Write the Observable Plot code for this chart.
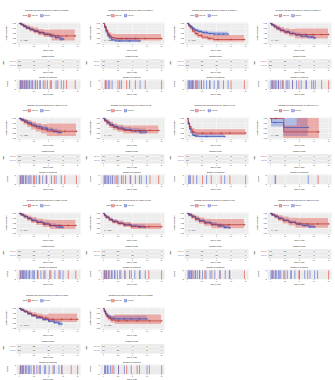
<!DOCTYPE html>
<html><head><meta charset="utf-8">
<script src="https://cdn.jsdelivr.net/npm/d3@7"></script>
<script src="https://cdn.jsdelivr.net/npm/@observablehq/plot@0.6"></script>
<style>
body{margin:0;background:#fff;}
#root{position:relative;width:335px;height:380px;overflow:hidden;background:#fff;}
#root svg{overflow:visible;}
</style></head><body><div id="root"></div>
<script>
const timeTicks = [0, 2.5, 5, 7.5, 10];
const survTicks = [0, 0.25, 0.5, 0.75, 1];
const strata = ["High expr", "Low expr"];
const gene = "PRRX1";
const subsets = ["stage I", "stage II", "stage III", "stage IV", "T1", "T2", "T3", "T4", "N0", "N1", "M0", "M1", "male", "female"];
const pValues = ["p = 0.38", "p = 0.27", "p = 0.11", "p = 0.14", "p = 0.83", "p = 0.46", "p = 0.22", "p = 0.55", "p = 0.19", "p = 0.76", "p = 0.14", "p = 0.5", "p = 0.097", "p = 0.27"];

// Kaplan-Meier steps: [time, survival, lower, upper]
const hi1 = [[0,1,1,1],[0.3,0.94,0.87,1],[0.7,0.86,0.77,0.96],[1.2,0.78,0.67,0.9],[1.8,0.7,0.57,0.83],[2.5,0.62,0.48,0.77],[3.3,0.54,0.39,0.7],[4.3,0.46,0.3,0.66],[5.6,0.38,0.12,0.67],[9.6,0.38,0.12,0.67]];
const lo1 = [[0,1,1,1],[0.3,0.95,0.92,0.98],[0.7,0.87,0.83,0.91],[1.2,0.78,0.73,0.83],[1.8,0.7,0.64,0.76],[2.5,0.62,0.55,0.69],[3.3,0.54,0.46,0.61],[4.2,0.46,0.38,0.54],[5.2,0.38,0.29,0.47],[6.2,0.3,0.19,0.41],[7,0.22,0.11,0.36],[7.6,0.22,0.11,0.36]];
const hi2 = [[0,1,1,1],[0.2,0.85,0.75,0.96],[0.45,0.66,0.53,0.8],[0.7,0.5,0.37,0.66],[1,0.38,0.25,0.54],[1.4,0.3,0.18,0.46],[2,0.25,0.13,0.45],[10,0.25,0.13,0.45]];
const lo2 = [[0,1,1,1],[0.2,0.82,0.72,0.93],[0.45,0.6,0.48,0.74],[0.7,0.42,0.3,0.56],[1,0.28,0.18,0.41],[1.4,0.18,0.1,0.3],[2,0.13,0.05,0.26],[6.3,0.13,0.05,0.26]];
const hi3 = [[0,1,1,1],[0.2,0.9,0.82,0.98],[0.5,0.78,0.68,0.88],[0.9,0.63,0.52,0.75],[1.3,0.5,0.38,0.63],[1.8,0.4,0.28,0.54],[2.5,0.32,0.2,0.47],[3.5,0.26,0.14,0.42],[4.5,0.2,0.07,0.4],[9.8,0.2,0.07,0.4]];
const lo3 = [[0,1,1,1],[0.2,0.93,0.9,0.97],[0.5,0.84,0.79,0.89],[0.9,0.74,0.68,0.8],[1.3,0.66,0.6,0.73],[1.8,0.6,0.53,0.67],[2.5,0.54,0.47,0.62],[3.5,0.5,0.42,0.58],[4.5,0.47,0.38,0.56],[7,0.47,0.38,0.56]];
const hi4 = [[0,1,1,1],[0.2,0.93,0.86,1],[0.6,0.84,0.74,0.95],[1.1,0.74,0.62,0.87],[1.7,0.65,0.52,0.8],[2.4,0.57,0.42,0.74],[3.3,0.5,0.34,0.7],[4.3,0.45,0.22,0.72],[10,0.45,0.22,0.72]];
const lo4 = [[0,1,1,1],[0.2,0.94,0.91,0.97],[0.6,0.86,0.82,0.9],[1.1,0.76,0.71,0.81],[1.7,0.66,0.6,0.72],[2.4,0.58,0.51,0.65],[3.3,0.5,0.43,0.58],[4.3,0.43,0.35,0.52],[5.3,0.37,0.28,0.47],[6.4,0.32,0.22,0.43],[7.4,0.28,0.17,0.4],[7.7,0.28,0.17,0.4]];
const hi5 = [[0,1,1,1],[0.3,0.92,0.82,1],[0.8,0.82,0.68,0.96],[1.4,0.72,0.55,0.9],[2.1,0.62,0.42,0.82],[2.9,0.52,0.32,0.75],[3.8,0.44,0.22,0.7],[4.8,0.36,0.1,0.72],[9.8,0.36,0.1,0.72]];
const lo5 = [[0,1,1,1],[0.3,0.95,0.92,0.98],[0.8,0.87,0.82,0.91],[1.4,0.78,0.72,0.83],[2.1,0.68,0.62,0.74],[2.9,0.6,0.53,0.67],[3.8,0.52,0.44,0.6],[4.8,0.44,0.35,0.53],[5.8,0.36,0.26,0.47],[6.6,0.3,0.19,0.42],[7.2,0.3,0.19,0.42]];
const hi6 = [[0,1,1,1],[0.2,0.9,0.8,1],[0.6,0.78,0.65,0.92],[1.1,0.65,0.5,0.82],[1.7,0.55,0.4,0.73],[2.5,0.47,0.31,0.66],[3.5,0.4,0.22,0.62],[9.5,0.4,0.22,0.62]];
const lo6 = [[0,1,1,1],[0.2,0.92,0.88,0.96],[0.6,0.82,0.77,0.88],[1.1,0.7,0.63,0.77],[1.7,0.6,0.52,0.68],[2.5,0.52,0.43,0.61],[3.5,0.45,0.35,0.55],[4.8,0.38,0.27,0.5],[6.2,0.33,0.2,0.47],[7.4,0.33,0.2,0.47]];
const hi7 = [[0,1,1,1],[0.15,0.8,0.68,0.93],[0.35,0.6,0.47,0.75],[0.6,0.44,0.32,0.6],[0.9,0.33,0.22,0.5],[1.3,0.27,0.15,0.44],[10,0.27,0.15,0.44]];
const lo7 = [[0,1,1,1],[0.15,0.75,0.65,0.86],[0.35,0.5,0.4,0.63],[0.6,0.3,0.21,0.43],[0.9,0.18,0.11,0.3],[1.3,0.12,0.06,0.23],[2,0.1,0.04,0.21],[6.4,0.1,0.04,0.21]];
const hi8 = [[0,1,1,1],[2.3,0.33,0,0.62],[4.6,0.33,0,1],[8.4,0.33,0,1]];
const lo8 = [[0,1,1,1],[0.2,0.8,0.58,1],[2.3,0.55,0.1,1],[6.5,0.55,0.1,1]];
const hi9 = [[0,1,1,1],[0.3,0.93,0.85,1],[0.8,0.84,0.73,0.95],[1.4,0.74,0.61,0.88],[2.1,0.64,0.5,0.8],[3,0.55,0.4,0.72],[4.1,0.47,0.3,0.67],[5.3,0.4,0.2,0.65],[9.7,0.4,0.2,0.65]];
const lo9 = [[0,1,1,1],[0.3,0.94,0.91,0.97],[0.8,0.85,0.81,0.89],[1.4,0.76,0.71,0.81],[2.1,0.66,0.6,0.72],[3,0.57,0.5,0.64],[4.1,0.48,0.4,0.56],[5.2,0.4,0.31,0.49],[6.3,0.33,0.23,0.44],[7.5,0.3,0.19,0.42]];
const hi10 = [[0,1,1,1],[0.2,0.9,0.84,0.96],[0.5,0.8,0.72,0.88],[1,0.68,0.59,0.78],[1.6,0.58,0.48,0.69],[2.5,0.5,0.39,0.62],[3.5,0.42,0.3,0.55],[4.8,0.34,0.2,0.49],[10,0.34,0.2,0.49]];
const lo10 = [[0,1,1,1],[0.2,0.92,0.89,0.95],[0.5,0.82,0.78,0.86],[1,0.7,0.65,0.75],[1.6,0.6,0.54,0.66],[2.5,0.51,0.45,0.58],[3.5,0.44,0.37,0.51],[4.8,0.37,0.3,0.45],[6,0.33,0.25,0.42],[7.2,0.32,0.23,0.41]];
const hi11 = [[0,1,1,1],[0.3,0.92,0.84,1],[0.8,0.82,0.71,0.94],[1.4,0.71,0.58,0.86],[2.1,0.61,0.46,0.78],[3,0.52,0.36,0.71],[4.2,0.44,0.24,0.7],[9.8,0.44,0.24,0.7]];
const lo11 = [[0,1,1,1],[0.3,0.94,0.91,0.97],[0.8,0.85,0.81,0.89],[1.4,0.74,0.69,0.79],[2.1,0.64,0.58,0.7],[3,0.55,0.48,0.62],[4.1,0.46,0.38,0.54],[5.2,0.38,0.29,0.47],[6.3,0.31,0.21,0.42],[7.3,0.28,0.17,0.4]];
const hi12 = [[0,1,1,1],[0.3,0.93,0.85,1],[0.8,0.84,0.73,0.96],[1.4,0.74,0.6,0.89],[2.2,0.64,0.48,0.82],[3.2,0.55,0.37,0.76],[4.4,0.48,0.26,0.75],[10,0.48,0.26,0.75]];
const lo12 = [[0,1,1,1],[0.3,0.94,0.91,0.97],[0.8,0.86,0.82,0.9],[1.4,0.76,0.71,0.81],[2.2,0.66,0.6,0.72],[3.2,0.56,0.49,0.63],[4.4,0.47,0.39,0.55],[5.5,0.4,0.31,0.5],[6.6,0.34,0.24,0.46],[7.6,0.32,0.21,0.45]];
const hi13 = [[0,1,1,1],[0.3,0.93,0.87,0.99],[0.8,0.85,0.77,0.93],[1.4,0.76,0.66,0.86],[2.1,0.67,0.56,0.79],[3,0.59,0.46,0.72],[4,0.52,0.38,0.68],[5,0.46,0.3,0.72],[10,0.46,0.3,0.72]];
const lo13 = [[0,1,1,1],[0.3,0.93,0.9,0.96],[0.8,0.84,0.8,0.88],[1.4,0.74,0.69,0.79],[2.1,0.64,0.58,0.7],[3,0.54,0.47,0.61],[4,0.45,0.38,0.53],[5,0.37,0.29,0.46],[6,0.3,0.2,0.4],[6.8,0.23,0.12,0.36],[7.3,0.23,0.12,0.36]];
const hi14 = [[0,1,1,1],[0.15,0.86,0.76,0.96],[0.35,0.72,0.6,0.85],[0.6,0.6,0.47,0.75],[0.9,0.5,0.37,0.66],[1.3,0.43,0.28,0.62],[2,0.38,0.2,0.68],[10,0.38,0.2,0.68]];
const lo14 = [[0,1,1,1],[0.15,0.88,0.83,0.93],[0.35,0.76,0.7,0.83],[0.6,0.65,0.58,0.73],[0.9,0.57,0.49,0.66],[1.3,0.51,0.42,0.61],[2,0.48,0.37,0.62],[7.5,0.48,0.37,0.62]];
const kmHigh = [hi1, hi2, hi3, hi4, hi5, hi6, hi7, hi8, hi9, hi10, hi11, hi12, hi13, hi14];
const kmLow = [lo1, lo2, lo3, lo4, lo5, lo6, lo7, lo8, lo9, lo10, lo11, lo12, lo13, lo14];

// Number at risk at timeTicks
const riskHigh = [[58,16,6,2,0],[65,15,9,3,1],[44,12,5,2,1],[36,12,6,3,1],[28,10,4,2,1],[31,12,5,2,1],[37,8,5,2,1],[3,1,1,1,0],[52,18,7,3,0],[73,28,9,4,1],[41,15,6,3,1],[33,12,5,3,1],[57,22,9,4,1],[27,6,3,1,1]];
const riskLow = [[212,48,12,1,0],[56,7,4,1,0],[186,72,26,4,0],[210,74,24,5,0],[176,60,20,5,0],[144,50,16,4,0],[59,6,3,1,0],[5,3,1,0,0],[224,80,26,6,0],[180,64,20,4,0],[236,84,27,6,0],[198,70,22,5,0],[201,70,22,4,0],[60,13,6,2,0]];

// Censoring times
const censorHigh = [
 [0.2,0.5,0.9,1.3,1.7,2.2,2.8,3.5,4.4,5.3,6.6,8.1,9.6],
 [0.3,0.6,1.1,2.5,3.1,4.0,5.5,7.2,10],
 [0.3,0.9,1.6,2.4,3.8,5.2,7.5,9.8],
 [0.3,0.8,1.4,2.1,2.9,3.8,4.9,6.1,7.4,8.8,10],
 [0.2,0.6,1.1,1.8,2.6,3.5,4.6,6.0,7.8,9.8],
 [0.3,0.8,1.5,2.3,3.4,4.7,6.2,8.0,9.5],
 [0.4,1.0,2.6,4.1,5.8,7.3,10],
 [0.9,8.2],
 [0.2,0.6,1.1,1.7,2.4,3.2,4.2,5.4,6.8,8.4,9.7],
 [0.2,0.5,0.9,1.4,2.0,2.8,3.7,4.8,6.2,7.8,10],
 [0.3,0.8,1.4,2.1,3.0,4.2,5.6,7.2,9.8],
 [0.3,0.9,1.6,2.5,3.6,4.9,6.4,8.1,10],
 [0.2,0.6,1.1,1.7,2.5,3.4,4.5,5.8,7.3,8.9,10],
 [0.3,0.7,1.5,2.6,4.0,5.8,7.9,10]
];
const censorLow = [
 [0.1,0.25,0.4,0.6,0.8,1.0,1.2,1.45,1.7,2.0,2.3,2.7,3.1,3.6,4.1,4.8,5.5,6.3,7.2,7.6],
 [0.4,0.9,1.5,2.8,4.5,6.3],
 [0.1,0.3,0.5,0.7,0.9,1.1,1.4,1.7,2.0,2.4,2.8,3.3,3.9,4.6,5.4,6.2,7],
 [0.1,0.3,0.5,0.8,1.1,1.4,1.8,2.2,2.7,3.2,3.8,4.5,5.3,6.2,7.1,7.7],
 [0.1,0.3,0.5,0.7,1.0,1.3,1.6,2.0,2.4,2.9,3.4,4.0,4.7,5.5,6.3,7.2],
 [0.1,0.3,0.6,0.9,1.2,1.6,2.0,2.5,3.1,3.8,4.6,5.5,6.5,7.4],
 [0.2,0.5,1.6,3.3,6.4],
 [0.8,6.5],
 [0.1,0.3,0.5,0.7,0.9,1.2,1.5,1.8,2.2,2.6,3.1,3.7,4.4,5.2,6.1,7.0,7.5],
 [0.1,0.3,0.5,0.8,1.1,1.5,1.9,2.4,3.0,3.7,4.5,5.4,6.3,7.2],
 [0.1,0.3,0.5,0.7,1.0,1.3,1.7,2.1,2.6,3.2,3.9,4.7,5.6,6.5,7.3],
 [0.1,0.3,0.5,0.8,1.1,1.4,1.8,2.3,2.9,3.5,4.2,5.0,5.9,6.8,7.6],
 [0.1,0.3,0.5,0.7,1.0,1.3,1.6,2.0,2.5,3.0,3.6,4.3,5.1,6.0,6.8,7.3],
 [0.2,0.4,0.8,1.2,1.8,2.6,3.6,4.8,6.2,7.5]
];

const RED = "#E8453C", BLUE = "#4F6BD8", PANEL = "#EBEBEB";
const RED_LINE = "#B8322E", BLUE_LINE = "#3F55B8";
const FONT = "Liberation Sans, Arial, sans-serif";
const colW = 335 / 4, rowH = 95;
const xDom = [-0.5, 10.5];
const root = document.getElementById("root");

const over = d3.select(root).append("svg").attr("width", 335).attr("height", 380)
  .style("position", "absolute").style("left", "0px").style("top", "0px").style("z-index", 2);
function txt(x, y, s, size, o = {}) {
  const t = over.append("text").attr("x", x).attr("y", y).attr("font-size", size)
    .attr("text-anchor", o.anchor || "middle").attr("dominant-baseline", "central")
    .attr("fill", o.fill || "#111").attr("font-family", FONT).text(s);
  if (o.rotate) t.attr("transform", `rotate(-90 ${x} ${y})`);
  return t;
}
function place(svg, x, y) {
  svg.style.position = "absolute";
  svg.style.left = x + "px";
  svg.style.top = y + "px";
  root.appendChild(svg);
}
const toRows = a => a.map(([t, s, lo, hi]) => ({t, s, lo, hi}));
function stepAt(rows, t) { let v = rows[0].s; for (const r of rows) if (r.t <= t) v = r.s; return v; }
const styleBase = {fontSize: "1.5px", fontFamily: FONT, background: "transparent", color: "#333"};
const axX = () => Plot.axisX(timeTicks, {tickSize: 0.8, tickPadding: 0.4, strokeWidth: 0.35, tickFormat: d => String(d), label: null});
const grids = (yt, ym) => [
  Plot.frame({fill: PANEL, stroke: null}),
  Plot.gridX([1.25, 3.75, 6.25, 8.75], {stroke: "white", strokeOpacity: 1, strokeWidth: 0.2}),
  ...(ym ? [Plot.gridY(ym, {stroke: "white", strokeOpacity: 1, strokeWidth: 0.2})] : []),
  Plot.gridX(timeTicks, {stroke: "white", strokeOpacity: 1, strokeWidth: 0.4}),
  Plot.gridY(yt, {stroke: "white", strokeOpacity: 1, strokeWidth: 0.4})
];

subsets.forEach((sub, i) => {
  const L = (i % 4) * colW, T = Math.floor(i / 4) * rowH;
  const hi = toRows(kmHigh[i]), lo = toRows(kmLow[i]);
  const cens = [
    ...censorHigh[i].filter(t => t <= hi[hi.length - 1].t).map(t => ({t, s: stepAt(hi, t), g: RED_LINE})),
    ...censorLow[i].filter(t => t <= lo[lo.length - 1].t).map(t => ({t, s: stepAt(lo, t), g: BLUE_LINE}))
  ];
  // survival curves
  place(Plot.plot({
    width: 83, height: 32, marginLeft: 16, marginRight: 3, marginTop: 3, marginBottom: 7,
    style: styleBase,
    x: {domain: xDom, label: null}, y: {domain: [-0.05, 1.05], label: null},
    marks: [
      ...grids(survTicks, [0.125, 0.375, 0.625, 0.875]),
      Plot.areaY(lo, {x: "t", y1: "lo", y2: "hi", curve: "step-after", fill: BLUE, fillOpacity: 0.38}),
      Plot.areaY(hi, {x: "t", y1: "lo", y2: "hi", curve: "step-after", fill: RED, fillOpacity: 0.38}),
      Plot.line(lo, {x: "t", y: "s", curve: "step-after", stroke: BLUE_LINE, strokeWidth: 0.7}),
      Plot.line(hi, {x: "t", y: "s", curve: "step-after", stroke: RED_LINE, strokeWidth: 0.7}),
      Plot.dot(cens, {x: "t", y: "s", symbol: "plus", r: 0.8, stroke: "g", strokeWidth: 0.4}),
      Plot.text([pValues[i]], {frameAnchor: "bottom-left", dx: 4, dy: -3.5, text: d => d, fontSize: 1.9, fill: "#111"}),
      axX(),
      Plot.axisY(survTicks, {tickSize: 0.8, tickPadding: 0.4, strokeWidth: 0.35, tickFormat: d3.format(".2f"), label: null})
    ]
  }), L, T + 19);
  // risk table
  const risk = [
    ...timeTicks.map((t, k) => ({t, g: strata[0], n: riskHigh[i][k]})),
    ...timeTicks.map((t, k) => ({t, g: strata[1], n: riskLow[i][k]}))
  ];
  place(Plot.plot({
    width: 83, height: 17, marginLeft: 16, marginRight: 3, marginTop: 2.5, marginBottom: 5,
    style: styleBase,
    x: {domain: xDom, label: null}, y: {domain: strata, axis: null, label: null},
    marks: [
      Plot.frame({fill: PANEL, stroke: null}),
      Plot.gridX(timeTicks, {stroke: "white", strokeOpacity: 1, strokeWidth: 0.4}),
      Plot.gridY(strata, {stroke: "white", strokeOpacity: 1, strokeWidth: 0.4}),
      Plot.text(risk, {x: "t", y: "g", text: "n", fontSize: 2, fill: "#111"}),
      Plot.text(strata, {y: d => d, text: d => d, frameAnchor: "left", textAnchor: "end", dx: -0.8, fontSize: 1.4, fill: d => d === strata[0] ? RED_LINE : BLUE_LINE}),
      axX()
    ]
  }), L, T + 56);
  // censoring
  const cRows = [
    ...censorHigh[i].map(t => ({t, n: 1, g: RED})),
    ...censorLow[i].map(t => ({t, n: 1, g: BLUE}))
  ];
  place(Plot.plot({
    width: 83, height: 17, marginLeft: 16, marginRight: 3, marginTop: 2, marginBottom: 5,
    style: styleBase,
    x: {domain: xDom, label: null}, y: {domain: [0, 1.15], label: null},
    marks: [
      ...grids([0, 1]),
      Plot.ruleX(cRows, {x: "t", y1: 0, y2: "n", stroke: "g", strokeWidth: 0.75, strokeOpacity: 0.85}),
      axX(),
      Plot.axisY([0, 1], {tickSize: 0.8, tickPadding: 0.4, strokeWidth: 0.35, label: null})
    ]
  }), L, T + 77);

  // texts
  txt(L + 47, T + 10, `Relapse free survival group by ${gene} in ${sub}`, 2.05);
  txt(L + 27, T + 15.8, "Strata", 1.6, {anchor: "end"});
  over.append("rect").attr("x", L + 28).attr("y", T + 14.6).attr("width", 2.6).attr("height", 2.4).attr("fill", RED).attr("fill-opacity", 0.5).attr("stroke", RED_LINE).attr("stroke-width", 0.3);
  txt(L + 31.3, T + 15.8, strata[0], 1.5, {anchor: "start"});
  over.append("rect").attr("x", L + 40.5).attr("y", T + 14.6).attr("width", 2.6).attr("height", 2.4).attr("fill", BLUE).attr("fill-opacity", 0.5).attr("stroke", BLUE_LINE).attr("stroke-width", 0.3);
  txt(L + 43.8, T + 15.8, strata[1], 1.5, {anchor: "start"});
  txt(L + 6, T + 33, "Survival probability", 1.8, {rotate: true});
  txt(L + 48, T + 50.3, "Time in years", 1.7);
  txt(L + 48, T + 56.4, "Number at risk", 1.9);
  txt(L + 3, T + 63, "Strata", 1.6, {rotate: true});
  txt(L + 48, T + 72.4, "Time in years", 1.7);
  txt(L + 48, T + 77, "Number of censoring", 1.9);
  txt(L + 7, T + 84, "n.censor", 1.6, {rotate: true});
  txt(L + 48, T + 93.6, "Time in years", 1.7);
});
</script></body></html>
